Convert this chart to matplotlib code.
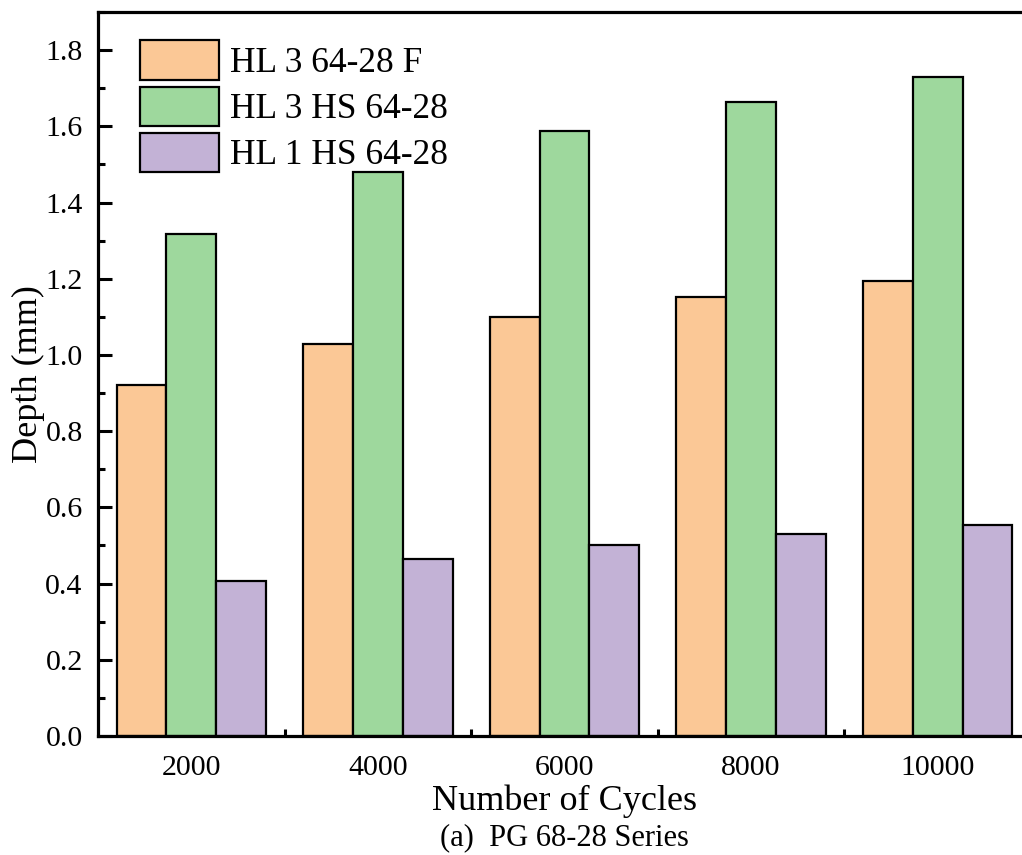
import matplotlib
matplotlib.use("Agg")
import matplotlib.pyplot as plt
import numpy as np
from matplotlib.ticker import MultipleLocator, FixedLocator

plt.rcParams['font.family'] = ['Liberation Serif', 'DejaVu Serif']

cycles = [2000, 4000, 6000, 8000, 10000]
series_names = ["HL 3 64-28 F", "HL 3 HS 64-28", "HL 1 HS 64-28"]
hl3_f = [0.921, 1.029, 1.099, 1.152, 1.194]
hl3_hs = [1.317, 1.480, 1.587, 1.665, 1.729]
hl1_hs = [0.407, 0.464, 0.502, 0.531, 0.554]
colors = ["#FBC896", "#9ED89D", "#C3B2D6"]

fig = plt.figure(figsize=(10.22, 8.55), dpi=100)
ax_rect = [98 / 1022, 119 / 855, 933 / 1022, 724 / 855]
ax = fig.add_axes(ax_rect)

x = np.array(cycles, dtype=float)
width = 2000 * 0.8 / 3
for i, (vals, name, c) in enumerate(zip([hl3_f, hl3_hs, hl1_hs], series_names, colors)):
    ax.bar(x + (i - 1) * width, vals, width, color=c, edgecolor="black",
           linewidth=1.6, label=name, zorder=2)

ax.set_xlim(1000, 11000)
ax.set_ylim(0, 1.9)
ax.xaxis.set_major_locator(FixedLocator(cycles))
ax.xaxis.set_minor_locator(FixedLocator([3000, 5000, 7000, 9000]))
ax.yaxis.set_major_locator(MultipleLocator(0.2))
ax.yaxis.set_minor_locator(MultipleLocator(0.1))
ax.set_yticklabels([f"{v:.1f}" for v in ax.get_yticks()])

ax.tick_params(which="major", direction="in", length=10, width=2.2,
               labelsize=21.5)
ax.tick_params(axis="x", which="major", pad=13.5)
ax.tick_params(axis="y", which="major", pad=11)
ax.tick_params(which="minor", direction="in", length=5, width=2.2)
for s in ax.spines.values():
    s.set_linewidth(2.3)

ax.set_ylabel("Depth (mm)", fontsize=26, labelpad=0.5)
ax.set_xlabel("Number of Cycles", fontsize=26, labelpad=2.5)
fig.text(ax_rect[0] + ax_rect[2] / 2, 1 - 838 / 855, "(a)  PG 68-28 Series",
         fontsize=22, ha="center", va="center")

ax.legend(loc="upper left", bbox_to_anchor=(0.022, 0.99), frameon=False,
          fontsize=25.5, handlelength=2.25, handleheight=1.33,
          handletextpad=0.3, labelspacing=0.19, borderaxespad=0.2)

fig.savefig("out.png", dpi=100)
